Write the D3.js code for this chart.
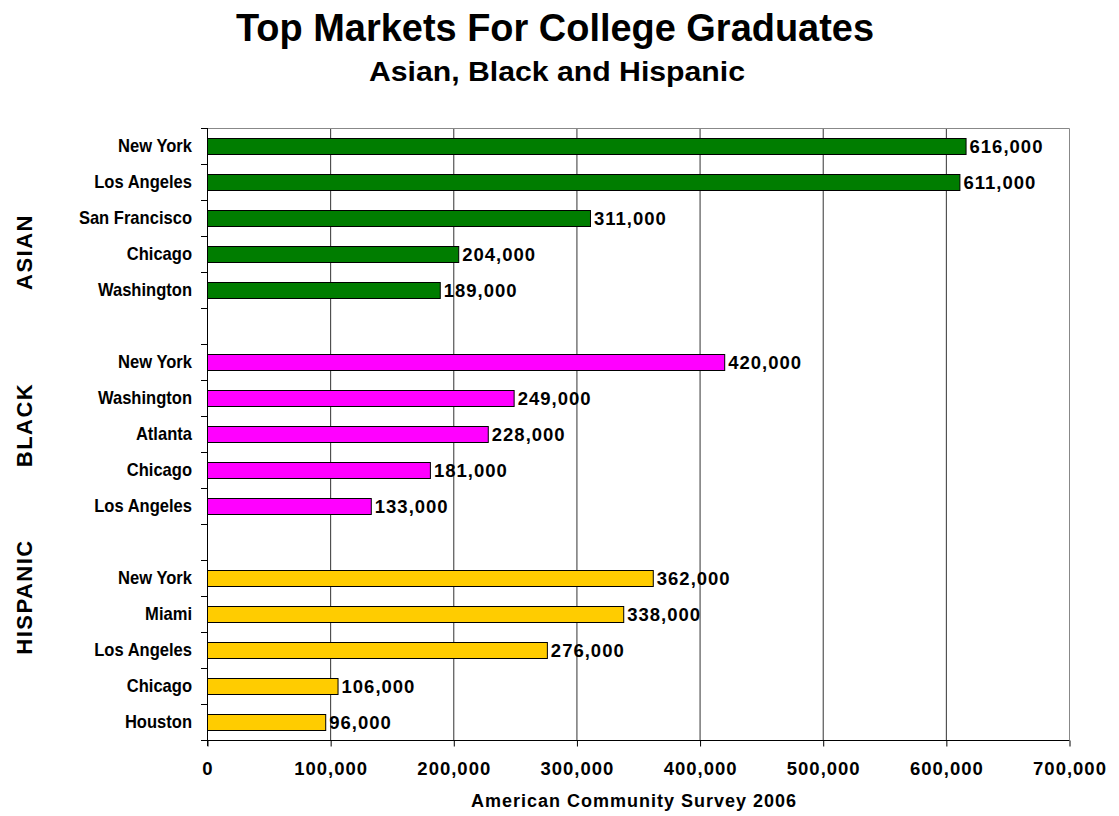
<!DOCTYPE html>
<meta charset="utf-8" />
<style>
  body { margin: 0; background: #fff; font-family: "Liberation Sans", Arial, sans-serif; }
  text { font-weight: bold; fill: #000; }
</style>
<body>
<script src="https://d3js.org/d3.v7.min.js"></script>
<script>
  // data
  var groups = ["ASIAN", "BLACK", "HISPANIC"];
  var groupColors = ["#007d00", "#ff00ff", "#ffcc00"];
  var asianCities = ["New York", "Los Angeles", "San Francisco", "Chicago", "Washington"];
  var asianValues = [616000, 611000, 311000, 204000, 189000];
  var blackCities = ["New York", "Washington", "Atlanta", "Chicago", "Los Angeles"];
  var blackValues = [420000, 249000, 228000, 181000, 133000];
  var hispanicCities = ["New York", "Miami", "Los Angeles", "Chicago", "Houston"];
  var hispanicValues = [362000, 338000, 276000, 106000, 96000];
  var xTicks = [0, 100000, 200000, 300000, 400000, 500000, 600000, 700000];

  var margin = { top: 128, left: 207 },
    W = 1119, H = 816;

  // build rows with a blank slot between groups
  var cityLists = [asianCities, blackCities, hispanicCities];
  var valueLists = [asianValues, blackValues, hispanicValues];
  var rows = [];
  cityLists.forEach(function (cities, g) {
    cities.forEach(function (c, i) {
      rows.push({ key: g + "-" + i, city: c, value: valueLists[g][i], group: g });
    });
    if (g < cityLists.length - 1) rows.push({ key: "gap" + g, city: "", value: null, group: g });
  });

  var svg = d3.select("body").append("svg")
    .attr("width", W).attr("height", H);

  svg.append("text").attr("x", 555).attr("y", 41)
    .attr("text-anchor", "middle").style("font-size", "39px")
    .attr("textLength", 638).attr("lengthAdjust", "spacingAndGlyphs")
    .text("Top Markets For College Graduates");
  svg.append("text").attr("x", 557).attr("y", 81)
    .attr("text-anchor", "middle").style("font-size", "28px")
    .attr("textLength", 376).attr("lengthAdjust", "spacingAndGlyphs")
    .text("Asian, Black and Hispanic");

  var g = svg.append("g").attr("transform", "translate(" + margin.left + "," + margin.top + ")");

  var plotW = 862, plotH = 612;
  var x = d3.scaleLinear().domain([0, 700000]).range([0, plotW]);
  var y = d3.scaleBand().domain(rows.map(function (d) { return d.key; }))
    .range([0, plotH]).paddingInner(0).paddingOuter(0);

  // grid lines
  g.selectAll(".grid").data(xTicks.slice(1, -1)).enter().append("line")
    .attr("x1", function (d) { return x(d) + 0.5; }).attr("x2", function (d) { return x(d) + 0.5; })
    .attr("y1", 0).attr("y2", plotH)
    .attr("stroke", "#333").attr("stroke-width", 1);

  // plot border (top / right grey)
  g.append("path")
    .attr("d", "M0.5,0.5H" + (x(700000) + 0.5) + "V" + plotH)
    .attr("fill", "none").attr("stroke", "#888").attr("stroke-width", 1);

  // bars
  var barH = 16;
  var data = rows.filter(function (d) { return d.value != null; });
  g.selectAll(".bar").data(data).enter().append("rect")
    .attr("x", x(0) + 0.5)
    .attr("y", function (d) { return y(d.key) + y.bandwidth() / 2 - barH / 2 + 0.5; })
    .attr("width", function (d) { return x(d.value) - x(0); })
    .attr("height", barH)
    .attr("fill", function (d) { return groupColors[d.group]; })
    .attr("stroke", "#000").attr("stroke-width", 1);

  // value labels
  var fmt = d3.format(",");
  g.selectAll(".val").data(data).enter().append("text")
    .attr("x", function (d) { return x(d.value) + 4; })
    .attr("y", function (d) { return y(d.key) + y.bandwidth() / 2; })
    .attr("dy", "0.36em")
    .style("font-size", "18.5px").style("letter-spacing", "1px")
    .text(function (d) { return fmt(d.value); });

  // category labels (slightly condensed, like the original)
  var catG = g.append("g").attr("transform", "translate(-15,0) scale(0.92,1)");
  catG.selectAll(".cat").data(data).enter().append("text")
    .attr("x", 0)
    .attr("y", function (d) { return y(d.key) + y.bandwidth() / 2; })
    .attr("dy", "0.36em").attr("text-anchor", "end")
    .style("font-size", "18px")
    .text(function (d) { return d.city; });

  // left axis line and ticks at band boundaries
  var bounds = d3.range(rows.length + 1).map(function (i) { return i * y.step(); });
  g.append("line").attr("x1", 0.5).attr("x2", 0.5).attr("y1", 0).attr("y2", plotH + 6)
    .attr("stroke", "#000");
  g.selectAll(".ltick").data(bounds).enter().append("line")
    .attr("x1", -6).attr("x2", 0)
    .attr("y1", function (d) { return d + 0.5; }).attr("y2", function (d) { return d + 0.5; })
    .attr("stroke", "#000");

  // bottom axis
  var xAxis = g.append("g").attr("transform", "translate(0.5," + (plotH + 0.5) + ")")
    .call(d3.axisBottom(x).tickValues(xTicks).tickSize(6).tickSizeOuter(0)
      .tickFormat(function (d) { return fmt(d); }));
  xAxis.select(".domain").attr("stroke", "#000").attr("d", "M0,0H" + x(700000));
  xAxis.selectAll(".tick line").attr("stroke", "#000");
  xAxis.selectAll(".tick text").attr("y", 21).attr("dy", "0.71em")
    .style("font-size", "18.5px").style("letter-spacing", "1px")
    .style("font-family", "'Liberation Sans', Arial")
    .attr("fill", "#000");

  // axis title
  svg.append("text").attr("x", 634).attr("y", 807)
    .attr("text-anchor", "middle").style("font-size", "18px").style("letter-spacing", "1px")
    .text("American Community Survey 2006");

  // group labels
  var groupY = [252, 425, 597];
  svg.selectAll(".grp").data(groups).enter().append("text")
    .attr("transform", function (d, i) { return "translate(32," + groupY[i] + ") rotate(-90)"; })
    .attr("text-anchor", "middle").style("font-size", "22px").style("letter-spacing", "1.5px")
    .text(function (d) { return d; });
</script>
</body>
